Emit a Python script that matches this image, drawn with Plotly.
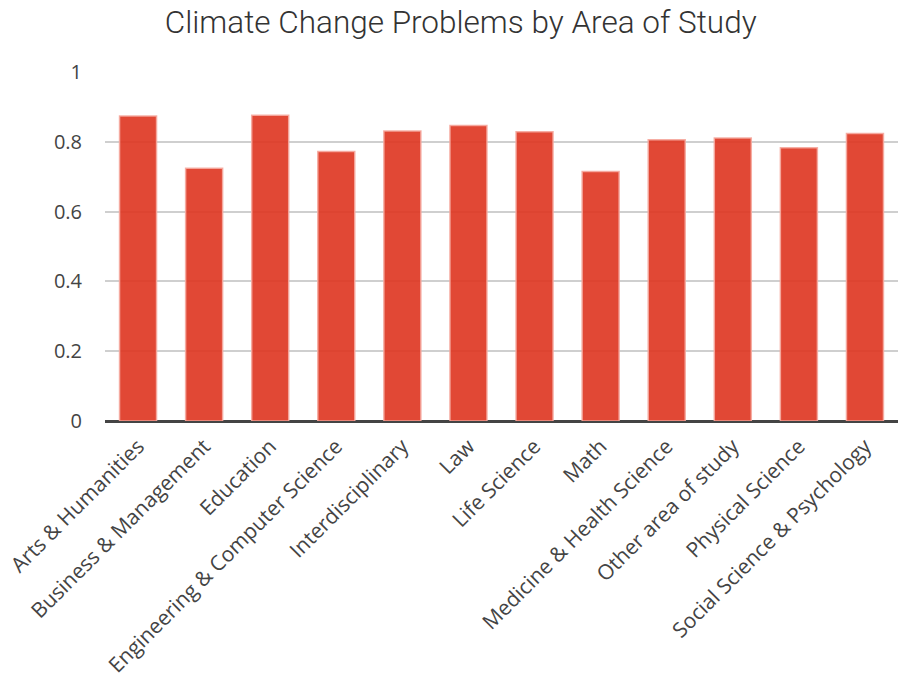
import plotly.graph_objects as go

# Share of respondents per area of study
areas = [
    "Arts & Humanities", "Business & Management", "Education",
    "Engineering & Computer Science", "Interdisciplinary", "Law",
    "Life Science", "Math", "Medicine & Health Science",
    "Other area of study", "Physical Science", "Social Science & Psychology",
]
shares = [0.874, 0.724, 0.876, 0.772, 0.831, 0.847,
          0.829, 0.715, 0.806, 0.811, 0.783, 0.824]

y_ticks = [0, 0.2, 0.4, 0.6, 0.8, 1]
y_tick_text = ["0", "0.2", "0.4", "0.6", "0.8", "1"]

fig = go.Figure(
    go.Bar(
        x=areas,
        y=shares,
        marker=dict(
            color="rgba(222, 56, 36, 0.92)",
            line=dict(color="rgba(245, 170, 160, 0.9)", width=1.5),
        ),
    )
)

fig.update_layout(
    width=898,
    height=681,
    margin=dict(l=105, r=0, t=72, b=260),
    paper_bgcolor="white",
    plot_bgcolor="white",
    bargap=0.44,
    showlegend=False,
    title=dict(
        text="Climate Change Problems by Area of Study",
        font=dict(family="Roboto", size=31.5, color="#333333", weight=300),
        x=0.513,
        xanchor="center",
        y=0.968,
        yanchor="middle",
    ),
    font=dict(family="Open Sans", color="#444444"),
)

fig.update_xaxes(
    tickangle=-45,
    tickfont=dict(size=21, family="Open Sans", color="#444444"),
    showgrid=False,
    showline=False,
    ticks="",
    ticklabelstandoff=8,
)

fig.update_yaxes(
    range=[0, 1],
    tickvals=y_ticks,
    ticktext=y_tick_text,
    tickfont=dict(size=20, family="Open Sans", color="#444444"),
    showgrid=True,
    gridcolor="#cfcfcf",
    gridwidth=1.5,
    zeroline=True,
    zerolinecolor="#444444",
    zerolinewidth=3,
    ticks="",
    ticklabelstandoff=22,
)

fig.write_html("out.html")
